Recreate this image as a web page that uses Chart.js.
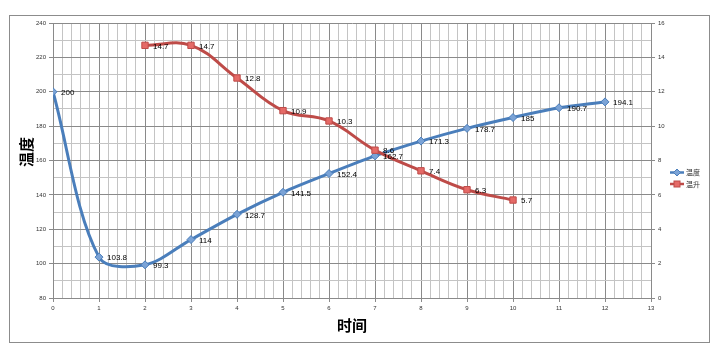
<!DOCTYPE html>
<html><head><meta charset="utf-8">
<script src="https://cdn.jsdelivr.net/npm/chart.js@4/dist/chart.umd.min.js"></script>
<style>html,body{margin:0;padding:0;background:#fff}#wrap{width:721px;height:356px}</style>
</head><body><div id="wrap"><canvas id="c" width="721" height="356"></canvas></div>
<script>
const timeX = [0,1,2,3,4,5,6,7,8,9,10,11,12];
const tempValues = [200,103.8,99.3,114,128.7,141.5,152.4,162.7,171.3,178.7,185,190.7,194.1];
const riseX = [2,3,4,5,6,7,8,9,10];
const riseValues = [14.7,14.7,12.8,10.9,10.3,8.6,7.4,6.3,5.7];
const seriesNames = ['温度','温升'];
const xTitle = '时间';
const yTitle = '温度';

const BLUE='#4A7EBB', RED='#BE4B48';
const MAJOR='#8a8a8a', MINOR='#c4c4c4';
const isInt=(v,m)=>Math.abs(v/m-Math.round(v/m))<1e-6;
const tickFont={family:'Liberation Sans',size:6};

const decor={
  id:'decor',
  beforeDraw(chart){
    const c=chart.ctx;c.save();c.fillStyle='#fff';c.fillRect(0,0,chart.width,chart.height);c.restore();
  },
  afterDatasetsDraw(chart){
    const c=chart.ctx;
    c.save();
    c.font='8px "Liberation Sans"';c.fillStyle='#000';c.textBaseline='middle';c.textAlign='left';
    chart.data.datasets.forEach((ds,i)=>{
      const meta=chart.getDatasetMeta(i);
      meta.data.forEach((el,j)=>{c.fillText(String(ds.data[j].y),el.x+8,el.y+1);});
    });
    c.restore();
  },
  afterDraw(chart){
    const c=chart.ctx,a=chart.chartArea;
    c.save();
    c.strokeStyle='#8c8c8c';c.lineWidth=1;c.strokeRect(9.5,15.5,700,327);
    c.fillStyle='#000';c.font='bold 15px "Noto Sans CJK SC"';c.textAlign='center';c.textBaseline='middle';
    c.fillText(xTitle,(a.left+a.right)/2,325);
    c.translate(26,152);c.rotate(-Math.PI/2);c.fillText(yTitle,0,0);
    c.restore();
    // legend
    c.save();
    const items=[[BLUE,'rectRot',172.5],[RED,'rect',184]];
    c.font='7px "Noto Sans CJK SC"';c.textBaseline='middle';c.fillStyle='#333';
    chart.data.datasets.forEach((ds,i)=>{
      const y=items[i][2];
      c.strokeStyle=ds.borderColor;c.lineWidth=2.5;c.beginPath();c.moveTo(670,y);c.lineTo(684,y);c.stroke();
      c.fillStyle=ds.pointBackgroundColor;c.strokeStyle=ds.borderColor;c.lineWidth=1;
      if(i===0){c.beginPath();c.moveTo(677,y-3.5);c.lineTo(680.5,y);c.lineTo(677,y+3.5);c.lineTo(673.5,y);c.closePath();c.fill();c.stroke();}
      else{c.fillRect(674,y-3,6,6);c.strokeRect(674,y-3,6,6);}
      c.fillStyle='#333';c.fillText(seriesNames[i],686,y);
    });
    c.restore();
  }
};

new Chart(document.getElementById('c'),{
  type:'line',
  data:{datasets:[
    {label:seriesNames[0],data:timeX.map((x,i)=>({x,y:tempValues[i]})),borderColor:BLUE,backgroundColor:BLUE,
     pointBackgroundColor:'#7BA3D6',pointBorderColor:BLUE,pointStyle:'rectRot',pointRadius:4,pointBorderWidth:1,
     borderWidth:3,tension:0.33,yAxisID:'y',order:2},
    {label:seriesNames[1],data:riseX.map((x,i)=>({x,y:riseValues[i]})),borderColor:RED,backgroundColor:RED,
     pointBackgroundColor:'#E56A67',pointBorderColor:RED,pointStyle:'rect',pointRadius:4.5,pointBorderWidth:1,
     borderWidth:3,tension:0.4,yAxisID:'y2',order:1}
  ]},
  options:{
    responsive:false,animation:false,devicePixelRatio:1,
    layout:{padding:{top:23,left:0,right:0,bottom:0}},
    plugins:{legend:{display:false},tooltip:{enabled:false}},
    scales:{
      x:{type:'linear',min:0,max:13,
        afterFit(s){s.height=58;},
        ticks:{stepSize:0.2,autoSkip:false,maxRotation:0,font:tickFont,color:'#333',padding:3,
          callback:v=>isInt(v,1)?String(Math.round(v)):''},
        grid:{color:ctx=>isInt(ctx.tick.value,1)?MAJOR:MINOR,tickColor:ctx=>isInt(ctx.tick.value,1)?MAJOR:'rgba(0,0,0,0)',tickLength:4,lineWidth:1},
        border:{color:MAJOR}},
      y:{type:'linear',position:'left',min:80,max:240,
        afterFit(s){s.width=53;},
        ticks:{stepSize:10,autoSkip:false,font:tickFont,color:'#333',padding:3,
          callback:v=>isInt(v,20)?String(Math.round(v)):''},
        grid:{color:ctx=>isInt(ctx.tick.value,20)?MAJOR:MINOR,tickColor:ctx=>isInt(ctx.tick.value,20)?MAJOR:'rgba(0,0,0,0)',tickLength:4},
        border:{color:MAJOR}},
      y2:{type:'linear',position:'right',min:0,max:16,
        afterFit(s){s.width=70;},
        ticks:{stepSize:1,autoSkip:false,font:tickFont,color:'#333',padding:3,
          callback:v=>isInt(v,2)?String(Math.round(v)):''},
        grid:{drawOnChartArea:false,tickColor:ctx=>isInt(ctx.tick.value,2)?MAJOR:'rgba(0,0,0,0)',tickLength:4},
        border:{color:MAJOR}}
    }
  },
  plugins:[decor]
});
</script></body></html>
